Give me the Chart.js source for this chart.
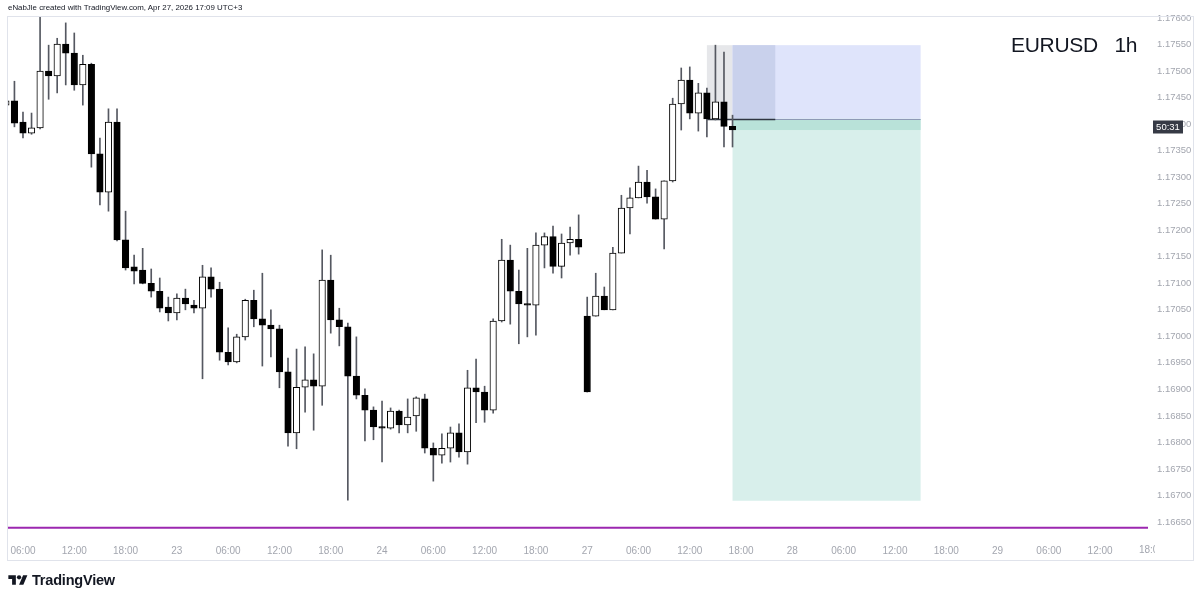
<!DOCTYPE html>
<html>
<head>
<meta charset="utf-8">
<script src="https://cdn.jsdelivr.net/npm/chart.js@4.4.1/dist/chart.umd.min.js"></script>
<style>
  html, body { margin: 0; padding: 0; background: #fff; }
  #wrap { position: relative; width: 1200px; height: 600px; font-family: 'Liberation Sans', Arial, sans-serif; color: #131722; }
  #chart { position: absolute; left: 0; top: 0; }
  .header { position: absolute; left: 8px; top: 3px; font-size: 7.9px; white-space: nowrap; }
  .symbol { position: absolute; left: 1011px; top: 33px; font-size: 21px; white-space: pre; line-height: 24px; letter-spacing: -0.3px; }
  .footer { position: absolute; left: 8px; top: 572px; display: flex; align-items: center; gap: 4px; }
  .footer span { font-size: 14.5px; font-weight: bold; letter-spacing: -0.2px; }
</style>
</head>
<body>
<div id="wrap">
  <canvas id="chart" width="1200" height="600"></canvas>
  <div class="header">eNabJle created with TradingView.com, Apr 27, 2026 17:09 UTC+3</div>
  <div class="symbol">EURUSD   1h</div>
  <div class="footer">
    <svg width="20" height="15" viewBox="0 0 36 28"><path d="M14 22H7V11H0V4h14v18zM28 22h-8l7.5-18h8L28 22z" fill="#131722"/><circle cx="20" cy="8" r="4" fill="#131722"/></svg>
    <span>TradingView</span>
  </div>
</div>
<script>
// hourly candles, first one is 22 Apr 04:00 (index -2, index 0 = 06:00)
const FIRST_INDEX = -2;
const opens = [
  1.17436, 1.17444, 1.17404, 1.17383, 1.17393, 1.17500, 1.17491, 1.17551, 1.17534, 1.17474,
  1.17513, 1.17344, 1.17272, 1.17404, 1.17182, 1.17131, 1.17125, 1.17100, 1.17085, 1.17055,
  1.17044, 1.17072, 1.17059, 1.17053, 1.17112, 1.17089, 1.16970, 1.16952, 1.16999, 1.17068,
  1.17033, 1.17021, 1.17014, 1.16933, 1.16818, 1.16904, 1.16918, 1.16906, 1.17106, 1.17031,
  1.17018, 1.16925, 1.16889, 1.16861, 1.16829, 1.16827, 1.16859, 1.16833, 1.16850, 1.16882,
  1.16789, 1.16776, 1.16789, 1.16818, 1.16782, 1.16903, 1.16895, 1.16861, 1.17029, 1.17144,
  1.17085, 1.17061, 1.17059, 1.17172, 1.17188, 1.17132, 1.17176, 1.17183, 1.17038, 1.17038,
  1.17076, 1.17050, 1.17157, 1.17242, 1.17261, 1.17291, 1.17263, 1.17221, 1.17293, 1.17438,
  1.17483, 1.17421, 1.17459, 1.17410, 1.17442, 1.17396
];
const highs = [
  1.17468, 1.17481, 1.17423, 1.17421, 1.17602, 1.17549, 1.17562, 1.17591, 1.17572, 1.17530,
  1.17515, 1.17374, 1.17429, 1.17429, 1.17236, 1.17153, 1.17166, 1.17127, 1.17110, 1.17074,
  1.17080, 1.17089, 1.17068, 1.17134, 1.17129, 1.17102, 1.17016, 1.17004, 1.17070, 1.17087,
  1.17119, 1.17050, 1.17021, 1.16959, 1.16976, 1.16980, 1.16967, 1.17163, 1.17153, 1.17053,
  1.17025, 1.16999, 1.16901, 1.16867, 1.16878, 1.16865, 1.16861, 1.16882, 1.16886, 1.16891,
  1.16799, 1.16816, 1.16829, 1.16835, 1.16936, 1.16957, 1.16906, 1.17033, 1.17183, 1.17172,
  1.17125, 1.17166, 1.17195, 1.17195, 1.17208, 1.17193, 1.17206, 1.17229, 1.17074, 1.17119,
  1.17093, 1.17168, 1.17266, 1.17280, 1.17321, 1.17313, 1.17278, 1.17293, 1.17449, 1.17506,
  1.17508, 1.17477, 1.17468, 1.17549, 1.17536, 1.17417
];
const lows = [
  1.17383, 1.17395, 1.17374, 1.17381, 1.17391, 1.17447, 1.17459, 1.17474, 1.17464, 1.17436,
  1.17319, 1.17248, 1.17236, 1.17180, 1.17125, 1.17099, 1.17099, 1.17074, 1.17046, 1.17029,
  1.17031, 1.17050, 1.17044, 1.16920, 1.17074, 1.16955, 1.16946, 1.16950, 1.16993, 1.17018,
  1.16944, 1.16961, 1.16903, 1.16793, 1.16788, 1.16857, 1.16823, 1.16870, 1.17006, 1.16982,
  1.16691, 1.16882, 1.16803, 1.16805, 1.16763, 1.16825, 1.16818, 1.16818, 1.16821, 1.16780,
  1.16727, 1.16761, 1.16763, 1.16772, 1.16759, 1.16837, 1.16838, 1.16855, 1.17027, 1.17023,
  1.16986, 1.16999, 1.17002, 1.17129, 1.17119, 1.17110, 1.17153, 1.17155, 1.16895, 1.17038,
  1.17050, 1.17050, 1.17157, 1.17193, 1.17261, 1.17251, 1.17221, 1.17165, 1.17291, 1.17389,
  1.17410, 1.17387, 1.17376, 1.17408, 1.17357, 1.17357
];
const closes = [
  1.17444, 1.17402, 1.17383, 1.17393, 1.17500, 1.17491, 1.17551, 1.17534, 1.17474, 1.17513,
  1.17344, 1.17272, 1.17404, 1.17182, 1.17129, 1.17123, 1.17100, 1.17085, 1.17053, 1.17044,
  1.17072, 1.17061, 1.17053, 1.17112, 1.17089, 1.16970, 1.16952, 1.16999, 1.17068, 1.17033,
  1.17021, 1.17014, 1.16933, 1.16818, 1.16904, 1.16918, 1.16906, 1.17106, 1.17031, 1.17018,
  1.16925, 1.16889, 1.16861, 1.16829, 1.16827, 1.16859, 1.16833, 1.16848, 1.16884, 1.16789,
  1.16776, 1.16789, 1.16818, 1.16782, 1.16903, 1.16895, 1.16861, 1.17029, 1.17144, 1.17085,
  1.17061, 1.17059, 1.17172, 1.17188, 1.17132, 1.17176, 1.17183, 1.17168, 1.16895, 1.17076,
  1.17050, 1.17157, 1.17242, 1.17261, 1.17291, 1.17263, 1.17221, 1.17293, 1.17438, 1.17483,
  1.17421, 1.17459, 1.17410, 1.17442, 1.17396, 1.17389
];

const yTicks = [
  1.1665, 1.1670, 1.1675, 1.1680, 1.1685, 1.1690, 1.1695, 1.1700, 1.1705, 1.1710,
  1.1715, 1.1720, 1.1725, 1.1730, 1.1735, 1.1740, 1.1745, 1.1750, 1.1755, 1.1760
];
const dayLabels = ['22', '23', '24', '27', '28', '29'];

// short position tool: time bounds (bar index) and prices
const posTimes = [80, 83, 88, 105];
const posPrices = [1.17549, 1.17410, 1.17389, 1.16690];
const purpleLevel = 1.16639;
const countdown = '50:31';

const X_MIN = -1.87, X_MAX = 131.6;
const Y_MIN = 1.16616, Y_MAX = 1.17604;

const times = opens.map((_, i) => i + FIRST_INDEX);
const wickData = times.map((t, i) => ({ x: t, y: [lows[i], highs[i]] }));
const bodyData = times.map((t, i) => ({ x: t, y: [opens[i], closes[i]] }));
const bodyColors = times.map((_, i) => closes[i] >= opens[i] ? '#ffffff' : '#000000');

function xLabel(v) {
  const h = (6 + v) % 24;
  if (h === 0) return dayLabels[Math.floor((6 + v) / 24)];
  return String(h).padStart(2, '0') + ':00';
}

const overlay = {
  id: 'overlay',
  beforeDatasetsDraw(chart) {
    const { ctx, scales: { x, y } } = chart;
    const X = v => x.getPixelForValue(v);
    const Y = v => y.getPixelForValue(v);
    ctx.save();
    // selected range highlight
    ctx.fillStyle = '#e6e7ea';
    ctx.fillRect(X(posTimes[0]), Y(posPrices[0]), X(posTimes[1]) - X(posTimes[0]), Y(posPrices[1]) - Y(posPrices[0]));
    // stop zone
    ctx.fillStyle = '#dfe4fb';
    ctx.fillRect(X(posTimes[1]), Y(posPrices[0]), X(posTimes[3]) - X(posTimes[1]), Y(posPrices[1]) - Y(posPrices[0]));
    ctx.fillStyle = '#c9d1ec';
    ctx.fillRect(X(posTimes[1]), Y(posPrices[0]), X(posTimes[2]) - X(posTimes[1]), Y(posPrices[1]) - Y(posPrices[0]));
    // target zone
    ctx.fillStyle = '#d8efeb';
    ctx.fillRect(X(posTimes[1]), Y(posPrices[1]), X(posTimes[3]) - X(posTimes[1]), Y(posPrices[3]) - Y(posPrices[1]));
    ctx.fillStyle = '#b9e2d9';
    ctx.fillRect(X(posTimes[1]), Y(posPrices[1]), X(posTimes[3]) - X(posTimes[1]), Y(posPrices[2]) - Y(posPrices[1]));
    // entry line
    ctx.strokeStyle = '#8e9ab6';
    ctx.lineWidth = 1;
    ctx.beginPath();
    ctx.moveTo(X(posTimes[1]), Math.round(Y(posPrices[1])) + 0.5);
    ctx.lineTo(X(posTimes[3]), Math.round(Y(posPrices[1])) + 0.5);
    ctx.stroke();
    ctx.strokeStyle = '#2f3542';
    ctx.lineWidth = 1.5;
    ctx.beginPath();
    ctx.moveTo(X(posTimes[0]), Math.round(Y(posPrices[1])) + 0.5);
    ctx.lineTo(X(posTimes[2]), Math.round(Y(posPrices[1])) + 0.5);
    ctx.stroke();
    ctx.restore();
  },
  afterDraw(chart) {
    const { ctx, scales: { y } } = chart;
    ctx.save();
    // pane frame
    ctx.strokeStyle = '#e0e3eb';
    ctx.lineWidth = 1;
    ctx.strokeRect(7.5, 16.5, 1186, 544);
    // countdown label on price scale
    const cy = Math.round(y.getPixelForValue(closes[closes.length - 1])) - 3;
    ctx.fillStyle = '#363a45';
    ctx.fillRect(1153, cy - 6.5, 30, 13);
    ctx.fillStyle = '#ffffff';
    ctx.font = '9.5px "Liberation Sans", Arial, sans-serif';
    ctx.textAlign = 'center';
    ctx.textBaseline = 'middle';
    ctx.fillText(countdown, 1168, cy + 0.5);
    // last time label, cut by the price scale
    ctx.beginPath();
    ctx.rect(1100, 540, 55, 20);
    ctx.clip();
    ctx.fillStyle = '#a3a6af';
    ctx.font = '10px "Liberation Sans", Arial, sans-serif';
    ctx.fillText(xLabel(132), chart.scales.x.getPixelForValue(132), 550);
    ctx.restore();
  }
};

new Chart(document.getElementById('chart'), {
  type: 'bar',
  data: {
    datasets: [
      {
        type: 'line',
        data: [{ x: X_MIN, y: purpleLevel }, { x: X_MAX, y: purpleLevel }],
        borderColor: '#9c27b0',
        borderWidth: 2,
        pointRadius: 0,
        order: 3
      },
      {
        data: wickData,
        backgroundColor: '#555861',
        barThickness: 1,
        grouped: false,
        order: 2
      },
      {
        data: bodyData,
        backgroundColor: bodyColors,
        borderColor: '#000000',
        borderWidth: 1,
        borderSkipped: false,
        barThickness: 6.5,
        minBarLength: 1.5,
        grouped: false,
        order: 1
      }
    ]
  },
  plugins: [overlay],
  options: {
    responsive: false,
    animation: false,
    layout: { padding: { left: 7, right: 7, top: 16, bottom: 40 } },
    plugins: { legend: { display: false }, tooltip: { enabled: false } },
    scales: {
      x: {
        type: 'linear',
        min: X_MIN,
        max: X_MAX,
        offset: false,
        grid: { display: false, drawTicks: false },
        border: { display: false },
        afterFit: s => { s.height = 20; },
        afterBuildTicks: s => {
          const ticks = [];
          for (let v = 0; v <= 126; v += 6) ticks.push({ value: v });
          s.ticks = ticks;
        },
        ticks: {
          autoSkip: false,
          maxRotation: 0,
          padding: 5,
          color: '#a3a6af',
          font: { family: '"Liberation Sans", Arial, sans-serif', size: 10 },
          callback: v => xLabel(v)
        }
      },
      y: {
        position: 'right',
        min: Y_MIN,
        max: Y_MAX,
        grid: { display: false, drawTicks: false },
        border: { display: false },
        afterFit: s => { s.width = 45; },
        afterBuildTicks: s => { s.ticks = yTicks.map(v => ({ value: v })); },
        ticks: {
          padding: 9,
          color: '#a3a6af',
          font: { family: '"Liberation Sans", Arial, sans-serif', size: 9.5 },
          callback: v => v.toFixed(5)
        }
      }
    }
  }
});
</script>
</body>
</html>
